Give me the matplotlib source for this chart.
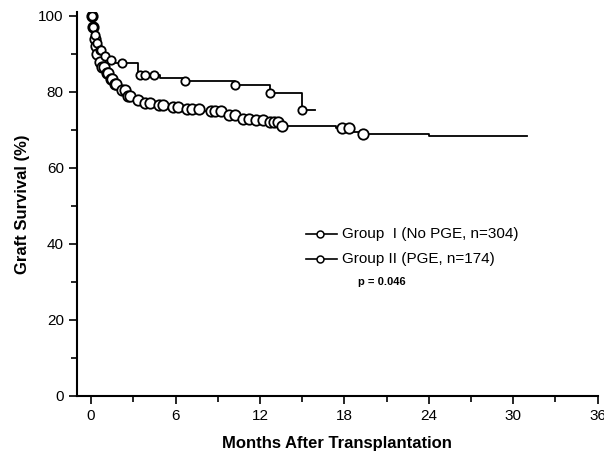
import matplotlib
matplotlib.use("Agg")
import matplotlib.pyplot as plt
from matplotlib.ticker import MultipleLocator

# Group I (No PGE) step curve
t1 = [0, 0.1, 0.2, 0.3, 0.4, 0.5, 0.7, 1.0, 1.3, 1.6, 2.0, 2.5, 3.0, 3.6, 4.5, 5.5,
      6.5, 8.0, 9.5, 10.5, 11.5, 12.5, 13.5, 17.4, 18.5, 19.2, 24.0, 31.0]
s1 = [100, 97, 94, 92, 90, 88, 86.5, 85, 83.5, 82, 80.5, 79, 78, 77, 76.5, 76,
      75.5, 75, 74, 73, 72.5, 72, 71, 70.5, 69.5, 69, 68.5, 68.5]
c1_t = [0.05, 0.15, 0.25, 0.35, 0.45, 0.6, 0.8, 0.9, 1.1, 1.2, 1.4, 1.5, 1.7, 1.8, 2.2,
        2.4, 2.6, 2.8, 3.3, 3.8, 4.2, 4.8, 5.1, 5.8, 6.2, 6.8, 7.2, 7.7, 8.5, 8.8,
        9.2, 9.8, 10.2, 10.8, 11.2, 11.7, 12.2, 12.7, 13.0, 13.3, 13.6, 17.8, 18.3, 19.3]
# Group II (PGE) step curve
t2 = [0, 0.1, 0.2, 0.3, 0.5, 0.8, 1.2, 1.6, 3.3, 4.9, 6.7, 10.2, 12.7, 15.0, 15.9]
s2 = [100, 97, 95, 93, 91, 89.5, 88.5, 87.5, 84.5, 83.6, 83, 81.8, 79.8, 75.2, 75.2]
c2_t = [0.05, 0.15, 0.25, 0.4, 0.6, 0.7, 1.0, 1.4, 2.2, 3.5, 3.8, 4.5, 6.7, 10.2, 12.7, 15.0]

xticks = [0, 6, 12, 18, 24, 30, 36]
yticks = [0, 20, 40, 60, 80, 100]


def surv_at(t, s, x):  # value of step curve at time x
    v = s[0]
    for ti, si in zip(t, s):
        if ti <= x:
            v = si
    return v


plt.rcParams['font.family'] = ['Liberation Sans', 'DejaVu Sans']
fig = plt.figure(figsize=(6.04, 4.58), dpi=100)
ax = fig.add_axes([0.1275, 0.1354, 0.862, 0.838])

ax.plot(t1, s1, drawstyle='steps-post', color='black', lw=1.3)
ax.plot(c1_t, [surv_at(t1, s1, x) for x in c1_t], 'o', mfc='white', mec='black',
        ms=7.5, mew=1.3, linestyle='none')
ax.plot(t2, s2, drawstyle='steps-post', color='black', lw=1.3)
ax.plot(c2_t, [surv_at(t2, s2, x) for x in c2_t], 'o', mfc='white', mec='black',
        ms=6, mew=1.3, linestyle='none')

# legend
lx = [15.3, 16.3, 17.5]
ax.plot([lx[0], lx[2]], [42.5, 42.5], color='black', lw=1.2)
ax.plot([lx[1]], [42.5], 'o', mfc='white', mec='black', ms=5, mew=1.1)
ax.text(17.8, 42.5, 'Group  I (No PGE, n=304)', fontsize=11, va='center')
ax.plot([lx[0], lx[2]], [36, 36], color='black', lw=1.2)
ax.plot([lx[1]], [36], 'o', mfc='white', mec='black', ms=5, mew=1.1)
ax.text(17.8, 36, 'Group II (PGE, n=174)', fontsize=11, va='center')
ax.text(19.0, 30, 'p = 0.046', fontsize=8, fontweight='bold', va='center')

ax.set_xlim(-1, 36)
ax.set_ylim(0, 101)
ax.set_xticks(xticks)
ax.set_yticks(yticks)
ax.xaxis.set_minor_locator(MultipleLocator(3))
ax.yaxis.set_minor_locator(MultipleLocator(10))
ax.tick_params(which='both', direction='out', width=1.2, labelsize=11)
ax.tick_params(which='major', length=6)
ax.tick_params(which='minor', length=4)
for side in ['top', 'right']:
    ax.spines[side].set_visible(False)
for side in ['left', 'bottom']:
    ax.spines[side].set_linewidth(1.5)

ax.set_ylabel('Graft Survival (%)', fontsize=12, fontweight='bold', labelpad=6)
ax.set_xlabel('Months After Transplantation', fontsize=12, fontweight='bold', labelpad=9)

fig.savefig('out.png', dpi=100)
